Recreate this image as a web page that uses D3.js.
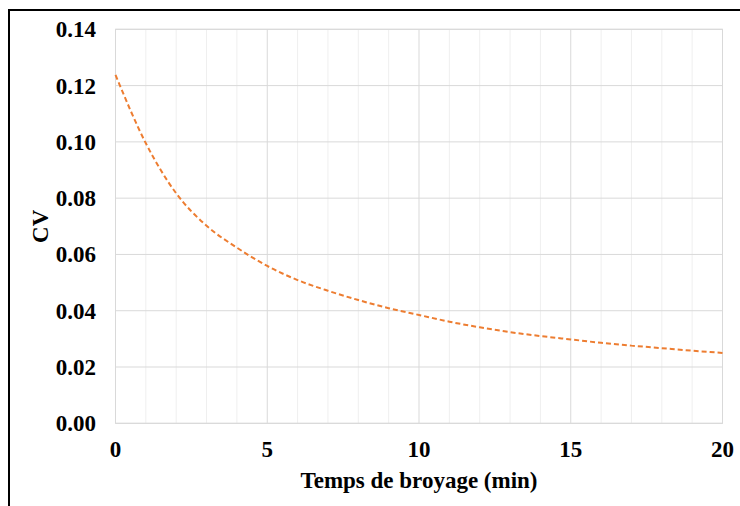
<!DOCTYPE html>
<html><head><meta charset="utf-8">
<script src="https://cdn.jsdelivr.net/npm/d3@7"></script>
<style>html,body{margin:0;padding:0;background:#fff;}svg{display:block;}</style>
</head><body>
<svg id="chart" width="740" height="506"></svg>
<script>
const times = [0,1,2,3,4,5,6,7,8,9,10,11,12,13,14,15,16,17,18,19,20];
const cvValues = [0.1238,0.0995,0.0817,0.0702,0.0624,0.0559,0.0509,0.0471,0.0438,0.0409,0.0385,0.0361,0.0341,0.0324,0.0310,0.0298,0.0286,0.0276,0.0267,0.0258,0.0250];
const xTicks = [0,5,10,15,20];
const xMinor = d3.range(0,21,1);
const yTicks = [0,0.02,0.04,0.06,0.08,0.10,0.12,0.14];
const xTitle = "Temps de broyage (min)";
const yTitle = "CV";

const svg = d3.select("#chart");
const L = 115.5, R = 722.5, T = 29.3, B = 423.3;
const x = d3.scaleLinear().domain([0,20]).range([L,R]);
const y = d3.scaleLinear().domain([0,0.14]).range([B,T]);

// frame (top & left visible)
svg.append("line").attr("x1",8).attr("x2",740).attr("y1",10).attr("y2",10).attr("stroke","#000").attr("stroke-width",2);
svg.append("line").attr("x1",9).attr("x2",9).attr("y1",9).attr("y2",506).attr("stroke","#000").attr("stroke-width",2);

// minor vertical grid
svg.append("g").selectAll("line").data(xMinor.filter(d=>d%5!==0)).join("line")
  .attr("x1",d=>x(d)).attr("x2",d=>x(d)).attr("y1",T).attr("y2",B)
  .attr("stroke","#efefef").attr("stroke-width",1);
// horizontal grid
svg.append("g").selectAll("line").data(yTicks).join("line")
  .attr("x1",L).attr("x2",R).attr("y1",d=>y(d)).attr("y2",d=>y(d))
  .attr("stroke","#d9d9d9").attr("stroke-width",1);
// major vertical grid
svg.append("g").selectAll("line").data(xTicks).join("line")
  .attr("x1",d=>x(d)).attr("x2",d=>x(d)).attr("y1",T).attr("y2",B)
  .attr("stroke","#d9d9d9").attr("stroke-width",1);
// plot border
svg.append("rect").attr("x",L).attr("y",T).attr("width",R-L).attr("height",B-T)
  .attr("fill","none").attr("stroke","#d9d9d9").attr("stroke-width",1);

const font = "'Liberation Serif','Times New Roman',serif";
const fs = 23;
// y tick labels
svg.append("g").selectAll("text").data(yTicks).join("text")
  .attr("x",96).attr("y",d=>y(d)).attr("dy","0.35em")
  .attr("text-anchor","end").attr("font-family",font).attr("font-weight","bold").attr("font-size",fs)
  .text(d=>d3.format(".2f")(d));
// x tick labels
svg.append("g").selectAll("text").data(xTicks).join("text")
  .attr("x",d=>x(d)).attr("y",457)
  .attr("text-anchor","middle").attr("font-family",font).attr("font-weight","bold").attr("font-size",fs)
  .text(d=>d);
// axis titles
svg.append("text").attr("x",(L+R)/2).attr("y",488).attr("text-anchor","middle")
  .attr("font-family",font).attr("font-weight","bold").attr("font-size",fs).text(xTitle);
svg.append("text").attr("transform",`translate(48,${(T+B)/2}) rotate(-90)`).attr("text-anchor","middle")
  .attr("font-family",font).attr("font-weight","bold").attr("font-size",fs).text(yTitle);

// curve
const line = d3.line().x((d,i)=>x(times[i])).y(d=>y(d)).curve(d3.curveMonotoneX);
svg.append("path").attr("d",line(cvValues)).attr("fill","none")
  .attr("stroke","#ED7D31").attr("stroke-width",2).attr("stroke-dasharray","5,3");
</script>
</body></html>
